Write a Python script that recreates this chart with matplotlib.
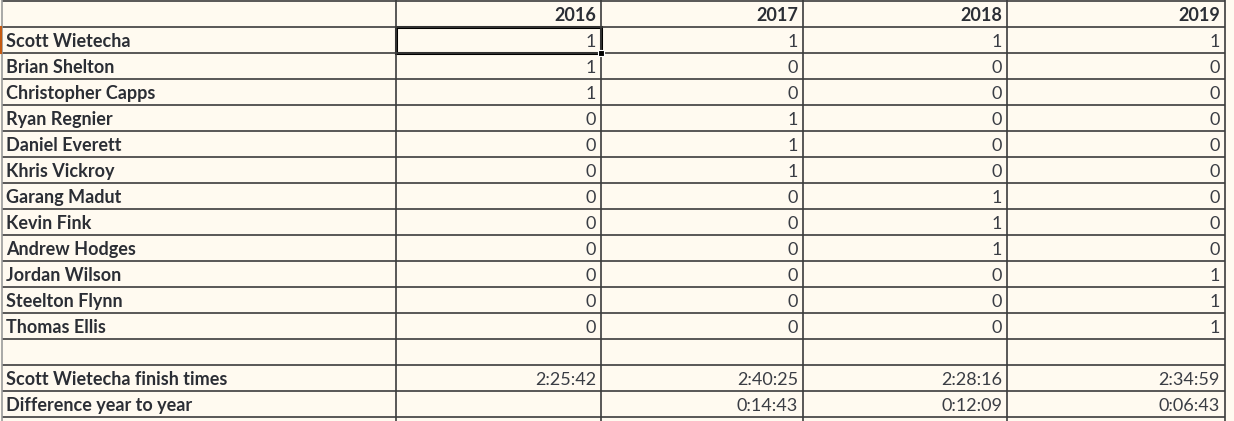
import matplotlib
matplotlib.use('Agg')
import matplotlib.pyplot as plt
from matplotlib.patches import Rectangle

# table content
years = ['2016', '2017', '2018', '2019']
runners = ['Scott Wietecha', 'Brian Shelton', 'Christopher Capps', 'Ryan Regnier',
           'Daniel Everett', 'Khris Vickroy', 'Garang Madut', 'Kevin Fink',
           'Andrew Hodges', 'Jordan Wilson', 'Steelton Flynn', 'Thomas Ellis']
top3 = [
    [1, 1, 1, 1],
    [1, 0, 0, 0],
    [1, 0, 0, 0],
    [0, 1, 0, 0],
    [0, 1, 0, 0],
    [0, 1, 0, 0],
    [0, 0, 1, 0],
    [0, 0, 1, 0],
    [0, 0, 1, 0],
    [0, 0, 0, 1],
    [0, 0, 0, 1],
    [0, 0, 0, 1],
]
finish_label = 'Scott Wietecha finish times'
finish_times = ['2:25:42', '2:40:25', '2:28:16', '2:34:59']
diff_label = 'Difference year to year'
diff_times = ['', '0:14:43', '0:12:09', '0:06:43']

# sheet geometry in pixels
W, H = 1234, 421
col_edges = [2, 396, 601, 803, 1007, 1225]
row_h = 26
n_rows = 17  # header + 12 names + blank + 2 summary rows + partial

bg = '#fffaf0'
grid = '#3c3c3c'
txt = '#2b2e35'
val = '#3a3d44'

fig = plt.figure(figsize=(W / 100, H / 100), dpi=100, facecolor=bg)
ax = fig.add_axes([0, 0, 1, 1])
ax.set_xlim(0, W)
ax.set_ylim(H, 0)
ax.axis('off')
ax.set_facecolor(bg)

# grid lines
for i in range(n_rows):
    y = 1 + i * row_h
    ax.plot([col_edges[0], col_edges[-1]], [y, y], color=grid, lw=1.2, solid_capstyle='butt')
ax.plot([col_edges[0], col_edges[0]], [0, H], color='#9a9a9a', lw=1.2)
for x in col_edges[1:]:
    ax.plot([x, x], [0, H], color=grid, lw=1.2)

font = 'Lato'
fs = 13


def baseline(r):
    # row r (0 = header); text sits 6 px above the bottom line
    return 1 + (r + 1) * row_h - 6


# header
for j, yr in enumerate(years):
    ax.text(col_edges[j + 2] - 5, baseline(0), yr, ha='right', va='baseline',
            fontsize=fs, fontweight='bold', color=txt, family=font)

# names and 0/1 values
for i, name in enumerate(runners):
    r = i + 1
    ax.text(6, baseline(r), name, ha='left', va='baseline',
            fontsize=fs, fontweight='bold', color=txt, family=font)
    for j, v in enumerate(top3[i]):
        ax.text(col_edges[j + 2] - 5, baseline(r), str(v), ha='right', va='baseline',
                fontsize=fs, color=val, family=font)

# summary rows
r_fin = len(runners) + 2
r_diff = r_fin + 1
ax.text(6, baseline(r_fin), finish_label, ha='left', va='baseline',
        fontsize=fs, fontweight='bold', color=txt, family=font)
ax.text(6, baseline(r_diff), diff_label, ha='left', va='baseline',
        fontsize=fs, fontweight='bold', color=txt, family=font)
for j in range(len(years)):
    ax.text(col_edges[j + 2] - 5, baseline(r_fin), finish_times[j], ha='right', va='baseline',
            fontsize=fs, color=val, family=font)
    ax.text(col_edges[j + 2] - 5, baseline(r_diff), diff_times[j], ha='right', va='baseline',
            fontsize=fs, color=val, family=font)

# selected cell (2016 / Scott Wietecha)
ax.add_patch(Rectangle((col_edges[1], 1 + row_h), col_edges[2] - col_edges[1], row_h,
                       fill=False, ec='black', lw=2.2))
ax.add_patch(Rectangle((col_edges[2] - 3, 1 + 2 * row_h - 3), 6, 6,
                       fc='black', ec='white', lw=0.8, zorder=5))
# row header highlight at left edge
ax.plot([0.5, 0.5], [1 + row_h, 1 + 2 * row_h], color='#c55a11', lw=1.5)

fig.savefig('out.png', dpi=100, facecolor=bg)
